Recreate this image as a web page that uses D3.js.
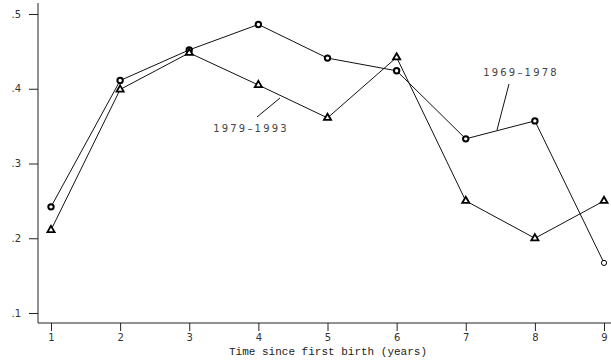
<!DOCTYPE html>
<html>
<head>
<meta charset="utf-8">
<script src="https://cdn.jsdelivr.net/npm/d3@7"></script>
<style>
  body { margin: 0; background: #fff; }
  svg { display: block; }
  .tick text { font-family: "DejaVu Sans", sans-serif; font-size: 10px; fill: #333; }
</style>
</head>
<body>
<svg width="611" height="364"></svg>
<script>
// years since first birth
const years = [1, 2, 3, 4, 5, 6, 7, 8, 9];
// cohort 1969-1978 (circles)
const cohort6978 = [0.242, 0.411, 0.452, 0.486, 0.441, 0.424, 0.333, 0.357, 0.167];
// cohort 1979-1993 (triangles)
const cohort7993 = [0.211, 0.399, 0.448, 0.405, 0.361, 0.442, 0.250, 0.200, 0.250];
const yTicks = [0.1, 0.2, 0.3, 0.4, 0.5];

const svg = d3.select('svg');

// scales: y from .1 at bottom to .5 near top
const x = d3.scaleLinear().domain([1, 9]).range([51, 604]);
const y = d3.scaleLinear().domain([0.1, 0.5]).range([313, 14]);

// axes
const xAxis = svg.append('g')
  .attr('transform', 'translate(0,323)')
  .call(d3.axisBottom(x).tickValues(years).tickFormat(d3.format('d')).tickSize(8).tickPadding(3));
xAxis.select('.domain').attr('d', 'M38,0H611');

const yAxis = svg.append('g')
  .attr('transform', 'translate(38,0)')
  .call(d3.axisLeft(y).tickValues(yTicks).tickFormat(d => d3.format('.1f')(d).replace(/^0/, '')).tickSize(9).tickPadding(8));
yAxis.select('.domain').attr('d', 'M0,3V323');

svg.selectAll('.domain, .tick line').attr('stroke', '#222');

svg.append('text')
  .attr('x', 328).attr('y', 355)
  .attr('text-anchor', 'middle')
  .attr('font-family', '"Liberation Mono", monospace')
  .attr('font-size', 11)
  .attr('fill', '#222')
  .text('Time since first birth (years)');

const line = d3.line().x((d, i) => x(years[i])).y(d => y(d));

// lines
[cohort6978, cohort7993].forEach(s => {
  svg.append('path').datum(s)
    .attr('d', line)
    .attr('fill', 'none')
    .attr('stroke', '#111')
    .attr('stroke-width', 1);
});

// circle markers
svg.selectAll('.circ').data(cohort6978).enter()
  .append('circle')
  .attr('cx', (d, i) => x(years[i]))
  .attr('cy', d => y(d))
  .attr('r', (d, i) => i === years.length - 1 ? 2.6 : 2.7)
  .attr('fill', '#fff')
  .attr('stroke', '#000')
  .attr('stroke-width', (d, i) => i === years.length - 1 ? 1 : 2);

// triangle markers
const tri = d3.symbol().type(d3.symbolTriangle).size(22);
svg.selectAll('.tri').data(cohort7993).enter()
  .append('path')
  .attr('d', tri)
  .attr('transform', (d, i) => `translate(${x(years[i])},${y(d)})`)
  .attr('fill', '#fff')
  .attr('stroke', '#000')
  .attr('stroke-width', 1.8);

// series labels with pointer lines
const labelStyle = sel => sel
  .attr('font-family', '"DejaVu Sans", sans-serif')
  .attr('font-size', 10)
  .attr('letter-spacing', 2.2)
  .attr('fill', '#444')
  .attr('text-anchor', 'middle');

svg.append('line').attr('x1', 257).attr('y1', 117).attr('x2', 280).attr('y2', 98)
  .attr('stroke', '#111');
svg.append('text').attr('x', 251).attr('y', 132).call(labelStyle).text('1979\u20131993');

svg.append('line').attr('x1', 509).attr('y1', 84).attr('x2', 497).attr('y2', 130)
  .attr('stroke', '#111');
svg.append('text').attr('x', 521).attr('y', 76).call(labelStyle).text('1969\u20131978');
</script>
</body>
</html>
